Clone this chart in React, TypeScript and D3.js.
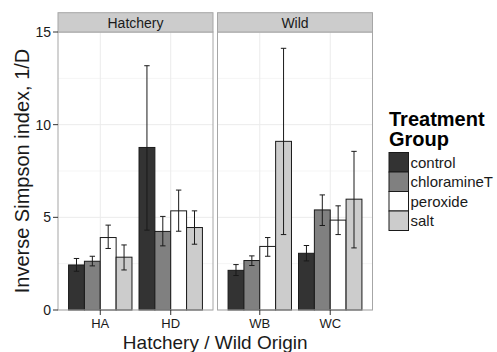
import * as d3 from 'd3';
import { useEffect, useRef } from 'react';

// Data
const facets = ['Hatchery', 'Wild'];
const origins = [['HA', 'HD'], ['WB', 'WC']];
const treatments = ['control', 'chloramineT', 'peroxide', 'salt'];
const fills = ['#333333', '#808080', '#ffffff', '#cccccc'];

// mean values per origin, in treatment order
const means = {
    HA: [2.43, 2.63, 3.91, 2.85],
    HD: [8.77, 4.24, 5.35, 4.45],
    WB: [2.14, 2.67, 3.43, 9.1],
    WC: [3.06, 5.4, 4.85, 5.98],
};
const lower = {
    HA: [2.09, 2.38, 3.32, 2.16],
    HD: [4.31, 3.46, 4.25, 3.55],
    WB: [1.86, 2.4, 2.9, 4.07],
    WC: [2.65, 4.56, 4.07, 3.35],
};
const upper = {
    HA: [2.78, 2.9, 4.58, 3.51],
    HD: [13.18, 5.05, 6.47, 5.35],
    WB: [2.45, 2.92, 3.91, 14.12],
    WC: [3.48, 6.21, 5.62, 8.56],
};
const yTicks = [0, 5, 10, 15];
const yMinor = [2.5, 7.5, 12.5];

const FONT = '"Liberation Sans", Arial, Helvetica, sans-serif';

const App = () => {
    const ref = useRef(null);

    useEffect(() => {
        const W = 497;
        const H = 352;
        const panelTop = 32;
        const panelBottom = 310;
        const stripTop = 12.7;
        const panelW = 155;
        const panelX = [58, 217.5];

        const root = d3.select(ref.current);
        root.selectAll('*').remove();

        const svg = root
            .append('svg')
            .attr('width', W)
            .attr('height', H)
            .style('position', 'absolute')
            .style('left', 0)
            .style('top', 0)
            .style('font-family', FONT);

        const y = d3.scaleLinear().domain([0, 15]).range([panelBottom, panelTop]);

        facets.forEach((facet, fi) => {
            const g = svg.append('g').attr('transform', `translate(${panelX[fi]},0)`);

            const x = d3.scalePoint().domain(origins[fi]).range([0, panelW]).padding(0.6);
            const step = x.step();
            const inner = d3.scaleBand().domain(treatments).range([-0.45 * step, 0.45 * step]);

            // panel background
            g.append('rect')
                .attr('x', 0)
                .attr('y', panelTop)
                .attr('width', panelW)
                .attr('height', panelBottom - panelTop)
                .attr('fill', '#ffffff');

            // minor grid
            g.selectAll('.minor')
                .data(yMinor)
                .enter()
                .append('line')
                .attr('x1', 0)
                .attr('x2', panelW)
                .attr('y1', (d) => y(d))
                .attr('y2', (d) => y(d))
                .attr('stroke', '#f5f5f5')
                .attr('stroke-width', 1);

            // major grid
            g.selectAll('.major')
                .data(yTicks)
                .enter()
                .append('line')
                .attr('x1', 0)
                .attr('x2', panelW)
                .attr('y1', (d) => y(d))
                .attr('y2', (d) => y(d))
                .attr('stroke', '#ebebeb')
                .attr('stroke-width', 1);

            g.selectAll('.vgrid')
                .data(origins[fi])
                .enter()
                .append('line')
                .attr('x1', (d) => x(d))
                .attr('x2', (d) => x(d))
                .attr('y1', panelTop)
                .attr('y2', panelBottom)
                .attr('stroke', '#ebebeb')
                .attr('stroke-width', 1);

            origins[fi].forEach((o) => {
                const rows = treatments.map((t, i) => ({
                    t,
                    i,
                    mean: means[o][i],
                    lo: lower[o][i],
                    hi: upper[o][i],
                }));
                const cx = (d) => x(o) + inner(d.t) + inner.bandwidth() / 2;

                // bars
                g.selectAll(`.bar-${o}`)
                    .data(rows)
                    .enter()
                    .append('rect')
                    .attr('x', (d) => x(o) + inner(d.t))
                    .attr('y', (d) => y(d.mean))
                    .attr('width', inner.bandwidth())
                    .attr('height', (d) => y(0) - y(d.mean))
                    .attr('fill', (d) => fills[d.i])
                    .attr('stroke', '#1a1a1a')
                    .attr('stroke-width', 1);

                // error bars
                g.selectAll(`.err-${o}`)
                    .data(rows)
                    .enter()
                    .append('line')
                    .attr('x1', cx)
                    .attr('x2', cx)
                    .attr('y1', (d) => y(d.lo))
                    .attr('y2', (d) => y(d.hi))
                    .attr('stroke', '#1a1a1a')
                    .attr('stroke-width', 1);

                ['lo', 'hi'].forEach((k) => {
                    g.selectAll(`.cap-${k}-${o}`)
                        .data(rows)
                        .enter()
                        .append('line')
                        .attr('x1', (d) => cx(d) - 2.7)
                        .attr('x2', (d) => cx(d) + 2.7)
                        .attr('y1', (d) => y(d[k]))
                        .attr('y2', (d) => y(d[k]))
                        .attr('stroke', '#1a1a1a')
                        .attr('stroke-width', 1);
                });
            });

            // panel border
            g.append('rect')
                .attr('x', 0)
                .attr('y', panelTop)
                .attr('width', panelW)
                .attr('height', panelBottom - panelTop)
                .attr('fill', 'none')
                .attr('stroke', '#a6a6a6')
                .attr('stroke-width', 1);

            // strip
            g.append('rect')
                .attr('x', 0)
                .attr('y', stripTop)
                .attr('width', panelW)
                .attr('height', panelTop - stripTop)
                .attr('fill', '#cccccc')
                .attr('stroke', '#a6a6a6')
                .attr('stroke-width', 1);

            g.append('text')
                .attr('x', panelW / 2)
                .attr('y', 27.5)
                .attr('text-anchor', 'middle')
                .style('font-size', '14px')
                .attr('fill', '#1a1a1a')
                .text(facet);

            // x axis ticks + labels
            g.selectAll('.xtick')
                .data(origins[fi])
                .enter()
                .append('line')
                .attr('x1', (d) => x(d))
                .attr('x2', (d) => x(d))
                .attr('y1', panelBottom)
                .attr('y2', panelBottom + 5)
                .attr('stroke', '#333333')
                .attr('stroke-width', 1);

            g.selectAll('.xlab')
                .data(origins[fi])
                .enter()
                .append('text')
                .attr('x', (d) => x(d))
                .attr('y', 327.5)
                .attr('text-anchor', 'middle')
                .style('font-size', '13px')
                .attr('fill', '#1a1a1a')
                .text((d) => d);
        });

        // y axis ticks + labels
        svg.selectAll('.ytick')
            .data(yTicks)
            .enter()
            .append('line')
            .attr('x1', panelX[0] - 5)
            .attr('x2', panelX[0])
            .attr('y1', (d) => y(d))
            .attr('y2', (d) => y(d))
            .attr('stroke', '#333333')
            .attr('stroke-width', 1);

        svg.selectAll('.ylab')
            .data(yTicks)
            .enter()
            .append('text')
            .attr('x', panelX[0] - 7)
            .attr('y', (d) => y(d))
            .attr('dy', '0.36em')
            .attr('text-anchor', 'end')
            .style('font-size', '14px')
            .attr('fill', '#1a1a1a')
            .text((d) => d);

        // axis titles
        svg.append('text')
            .attr('x', (panelX[0] + panelX[1] + panelW) / 2)
            .attr('y', 348.5)
            .attr('text-anchor', 'middle')
            .style('font-size', '19px')
            .attr('fill', '#1a1a1a')
            .text('Hatchery / Wild Origin');

        svg.append('text')
            .attr('transform', `translate(29,${(panelTop + panelBottom) / 2}) rotate(-90)`)
            .attr('text-anchor', 'middle')
            .style('font-size', '20px')
            .attr('fill', '#1a1a1a')
            .text('Inverse Simpson index, 1/D');

        // legend
        const legend = svg.append('g').attr('transform', 'translate(389,0)');
        legend.append('text')
            .attr('x', 0)
            .attr('y', 126)
            .style('font-size', '20px')
            .style('font-weight', 'bold')
            .text('Treatment');
        legend.append('text')
            .attr('x', 0)
            .attr('y', 146)
            .style('font-size', '20px')
            .style('font-weight', 'bold')
            .text('Group');

        const keyH = 19.5;
        legend.selectAll('.key')
            .data(treatments)
            .enter()
            .append('rect')
            .attr('x', 0)
            .attr('y', (d, i) => 152.5 + i * keyH)
            .attr('width', 19.5)
            .attr('height', keyH)
            .attr('fill', (d, i) => fills[i])
            .attr('stroke', '#1a1a1a')
            .attr('stroke-width', 1);

        legend.selectAll('.keylab')
            .data(treatments)
            .enter()
            .append('text')
            .attr('x', 21.5)
            .attr('y', (d, i) => 152.5 + i * keyH + keyH / 2)
            .attr('dy', '0.36em')
            .style('font-size', '15px')
            .attr('fill', '#1a1a1a')
            .text((d) => d);
    }, []);

    return <div ref={ref}></div>;
};

export default App;
